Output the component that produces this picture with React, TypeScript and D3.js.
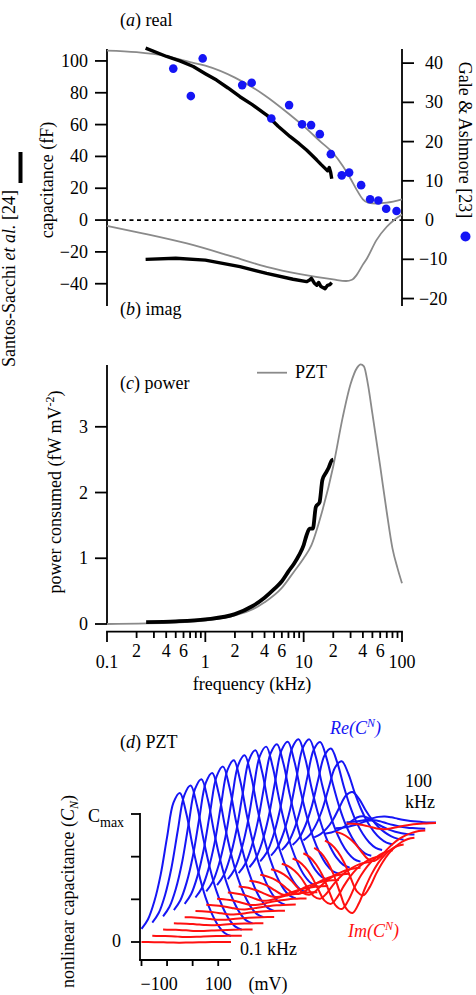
import React from 'react';
import * as d3 from 'd3';

const FONT = '"Liberation Serif", "Times New Roman", serif';

// ---- panels (a)/(b): PZT model (grey), Santos-Sacchi (black), Gale & Ashmore (dots)
const pztReFreq = [0.1, 0.2, 0.4, 0.7, 1, 2, 4, 7, 10, 15, 20, 25, 30, 35, 40, 45, 55, 70, 100];
const pztRe = [106.5, 105.5, 103, 99.3, 97, 89.5, 78.5, 67, 59, 49, 42, 34, 26, 18.5, 13, 11, 10.4, 10.9, 13];
const pztImFreq = [0.1, 0.23, 0.65, 1.9, 4.2, 9.2, 20, 27, 31, 34.5, 40, 44, 55, 70, 85, 100];
const pztIm = [-3.6, -8.3, -14.7, -23, -29.4, -34, -37.3, -38.3, -37.5, -34.6, -28, -24.1, -12.6, -4.2, 0.5, 3.5];

const ssReFreq = [0.247, 0.404, 0.55, 0.754, 1.0, 1.3, 1.7, 2.25, 3.0, 4.21, 5.5, 7.3, 9, 10.7, 12, 13.6, 15, 16.5, 17.5, 18.2, 18.8, 19.3];
const ssRe = [108, 102.8, 100, 96.5, 92, 88, 83, 77.5, 72.5, 66, 59, 52.4, 48, 44, 41, 37.7, 35, 32.5, 31, 33, 30, 26];
const ssImFreq = [0.247, 0.5, 1.0, 2.25, 4.2, 7.8, 10.7, 11.5, 12, 12.8, 13.6, 14.2, 15, 16.5, 17.5, 18.5, 19.3];
const ssIm = [-24.7, -24, -25.2, -29.3, -33.5, -37.2, -38.7, -37.7, -36.6, -39.5, -41, -39.2, -41.8, -43.2, -41, -40.5, -39.3];

const gaFreq = [0.472, 0.712, 0.94, 2.37, 2.96, 4.69, 7.11, 9.63, 11.9, 14.6, 18.9, 24.4, 29.0, 38.4, 47.4, 57.5, 69, 88];
const gaVal = [38.6, 31.6, 41.2, 34.4, 35.0, 25.9, 29.3, 24.4, 24.2, 21.9, 16.8, 11.4, 12.1, 8.9, 5.3, 5.0, 2.9, 2.3];

const leftTicksA = [-40, -20, 0, 20, 40, 60, 80, 100];
const rightTicksA = [-20, -10, 0, 10, 20, 30, 40];

// ---- panel (c): power
const pztPowFreq = [0.1, 0.5, 1, 2, 3, 4, 6, 8, 10, 12, 15, 20, 25, 30, 35, 38, 41, 45, 50, 60, 70, 80, 90, 100];
const pztPow = [0, 0.02, 0.05, 0.13, 0.22, 0.33, 0.55, 0.8, 1.0, 1.2, 1.65, 2.4, 3.15, 3.65, 3.9, 3.95, 3.92, 3.65, 3.2, 2.4, 1.7, 1.15, 0.85, 0.62];
const ssPowFreq = [0.25, 0.5, 1, 2, 3, 4, 5, 6, 7, 8, 9, 10, 10.7, 11.5, 12.4, 13.3, 14.5, 15.5, 17, 18, 19.3, 20];
const ssPow = [0.03, 0.04, 0.07, 0.15, 0.27, 0.4, 0.53, 0.65, 0.8, 0.92, 1.05, 1.2, 1.35, 1.45, 1.45, 1.78, 1.85, 2.19, 2.31, 2.38, 2.49, 2.5];
const powTicks = [0, 1, 2, 3];
const freqMajor = [0.1, 1, 10, 100];
const freqMinorLabels = [2, 4, 6];

// ---- panel (d): PZT nonlinear capacitance waterfall
const dFreqs = [0.1, 0.14, 0.21, 0.3, 0.43, 0.62, 0.89, 1.3, 1.8, 2.6, 3.8, 5.5, 7.8, 11, 16, 23, 34, 48, 70, 100];
const bellV = [-200, -175, -150, -125, -100, -75, -50, -25, 0, 25, 50, 75, 100, 125, 150];
const bellShape = [0.087, 0.15, 0.27, 0.45, 0.7, 0.93, 0.995, 0.86, 0.64, 0.45, 0.3, 0.19, 0.11, 0.06, 0.04];
const reAmp = [1.17, 1.18, 1.18, 1.18, 1.18, 1.18, 1.17, 1.16, 1.14, 1.11, 1.08, 1.05, 1.0, 0.93, 0.83, 0.68, 0.39, 0.15, 0.07, 0.05];
const imAmp = [0.005, 0.01, 0.012, 0.016, 0.023, 0.03, 0.04, 0.055, 0.07, 0.09, 0.125, 0.165, 0.22, 0.3, 0.39, 0.48, 0.56, 0.47, 0.25, 0.05];
const STEP_V = 42.2; // mV shift per frequency
const STEP_C = 0.049; // Cmax shift per frequency
const dVTicks = [-200, -100, 0, 100];
const dCTicks = [0, 1 / 3, 2 / 3, 1];

type P = [number, number];
const zip = (a: number[], b: number[]): P[] => a.map((v, i) => [v, b[i]]);

const App = () => {
  const fx = d3.scaleLog().domain([0.1, 100]).range([107, 402]);
  const yA = d3.scaleLinear().domain([-54, 107.5]).range([306, 49]);
  const yAR = d3.scaleLinear().domain([-21.9, 43.6]).range([306, 49]);
  const yC = d3.scaleLinear().domain([0, 3.94]).range([624, 365]);
  const vD = d3.scaleLinear().domain([-200, 150]).range([141.5, 231]);
  const cD = d3.scaleLinear().domain([0, 1]).range([942, 814]);

  const lineA = d3.line<P>().x(d => fx(d[0])).y(d => yA(d[1])).curve(d3.curveMonotoneX);
  const lineAj = d3.line<P>().x(d => fx(d[0])).y(d => yA(d[1]));
  const lineC = d3.line<P>().x(d => fx(d[0])).y(d => yC(d[1])).curve(d3.curveMonotoneX);
  const lineD = d3.line<P>().x(d => vD(d[0])).y(d => cD(d[1])).curve(d3.curveCatmullRom);

  const freqTicks = fx.ticks();
  const isMajor = (f: number) => freqMajor.some(m => Math.abs(f / m - 1) < 1e-6);
  const mantissa = (f: number) => Math.round(f / Math.pow(10, Math.floor(Math.log10(f) + 1e-9)));

  const blue = '#1515f5';
  const red = '#ff1010';
  const grey = '#8a8a8a';

  return (
    <svg width={476} height={995} style={{ position: 'absolute', left: 0, top: 0, background: '#fff' }}
      fontFamily={FONT} fontSize={18}>
      {/* ---------- (a)/(b) ---------- */}
      <text x={120} y={26}>(<tspan fontStyle="italic">a</tspan>) real</text>
      <text x={120} y={315}>(<tspan fontStyle="italic">b</tspan>) imag</text>
      <line x1={107} x2={107} y1={49} y2={306} stroke="#000" strokeWidth={1.8} />
      <line x1={402} x2={402} y1={49} y2={306} stroke="#000" strokeWidth={1.8} />
      {leftTicksA.map(t => (
        <g key={'la' + t}>
          <line x1={95} x2={107} y1={yA(t)} y2={yA(t)} stroke="#000" strokeWidth={1.8} />
          <text x={88} y={yA(t) + 6} textAnchor="end">{t < 0 ? '\u2212' + Math.abs(t) : t}</text>
        </g>
      ))}
      {rightTicksA.map(t => (
        <g key={'ra' + t}>
          <line x1={402} x2={414} y1={yAR(t)} y2={yAR(t)} stroke="#000" strokeWidth={1.8} />
          <text x={t < 0 ? 419 : 425} y={yAR(t) + 6}>{t < 0 ? '\u2212' + Math.abs(t) : t}</text>
        </g>
      ))}
      <line x1={107} x2={402} y1={yA(0)} y2={yA(0)} stroke="#000" strokeWidth={1.8} strokeDasharray="4 3.5" />
      <path d={lineA(zip(pztReFreq, pztRe)) || ''} fill="none" stroke={grey} strokeWidth={1.8} />
      <path d={lineA(zip(pztImFreq, pztIm)) || ''} fill="none" stroke={grey} strokeWidth={1.8} />
      <path d={lineAj(zip(ssReFreq, ssRe)) || ''} fill="none" stroke="#000" strokeWidth={3.4} strokeLinejoin="round" />
      <path d={lineAj(zip(ssImFreq, ssIm)) || ''} fill="none" stroke="#000" strokeWidth={3.4} strokeLinejoin="round" />
      {gaFreq.map((f, i) => (
        <circle key={'ga' + i} cx={fx(f)} cy={yAR(gaVal[i])} r={4.3} fill={blue} />
      ))}
      <text transform="translate(53,180) rotate(-90)" textAnchor="middle">capacitance (fF)</text>
      <text transform="translate(15,190) rotate(-90)" textAnchor="end">
        Santos-Sacchi <tspan fontStyle="italic">et al.</tspan> [24]
      </text>
      <line x1={20.5} x2={20.5} y1={152} y2={183} stroke="#000" strokeWidth={4} />
      <text transform="translate(459,140) rotate(90)" textAnchor="middle">Gale &amp; Ashmore [23]</text>
      <circle cx={465.5} cy={236.5} r={5} fill={blue} />

      {/* ---------- (c) ---------- */}
      <text x={120} y={389}>(<tspan fontStyle="italic">c</tspan>) power</text>
      <line x1={257} x2={287} y1={372.7} y2={372.7} stroke={grey} strokeWidth={1.8} />
      <text x={295} y={377.5}>PZT</text>
      <line x1={107} x2={107} y1={365} y2={624} stroke="#000" strokeWidth={1.8} />
      {powTicks.map(t => (
        <g key={'pc' + t}>
          <line x1={95} x2={107} y1={yC(t)} y2={yC(t)} stroke="#000" strokeWidth={1.8} />
          <text x={88} y={yC(t) + 6} textAnchor="end">{t}</text>
        </g>
      ))}
      <line x1={106.1} x2={402.9} y1={631.7} y2={631.7} stroke="#000" strokeWidth={1.8} />
      {freqTicks.map(f => {
        const major = isMajor(f);
        const m = mantissa(f);
        return (
          <g key={'fx' + f}>
            <line x1={fx(f)} x2={fx(f)} y1={631.7} y2={major ? 642 : 638} stroke="#000" strokeWidth={1.8} />
            {major && <text x={fx(f)} y={668} textAnchor="middle">{f}</text>}
            {!major && freqMinorLabels.includes(m) && <text x={fx(f)} y={657} textAnchor="middle">{m}</text>}
          </g>
        );
      })}
      <text x={252} y={690} textAnchor="middle">frequency (kHz)</text>
      <path d={lineC(zip(pztPowFreq, pztPow)) || ''} fill="none" stroke={grey} strokeWidth={1.8} />
      <path d={lineC(zip(ssPowFreq, ssPow)) || ''} fill="none" stroke="#000" strokeWidth={3.8} strokeLinejoin="round" />
      <text transform="translate(61,492) rotate(-90)" textAnchor="middle">
        power consumed (fW mV<tspan dy={-7} fontSize={12}>-2</tspan><tspan dy={7}>)</tspan>
      </text>

      {/* ---------- (d) ---------- */}
      <text x={120} y={748}>(<tspan fontStyle="italic">d</tspan>) PZT</text>
      <line x1={140} x2={140} y1={813} y2={960} stroke="#000" strokeWidth={1.8} />
      <line x1={139.1} x2={231} y1={960} y2={960} stroke="#000" strokeWidth={1.8} />
      {dCTicks.map((t, i) => (
        <line key={'dc' + i} x1={131} x2={140} y1={cD(t)} y2={cD(t)} stroke="#000" strokeWidth={1.8} />
      ))}
      {dVTicks.map(t => (
        <line key={'dv' + t} x1={vD(t)} x2={vD(t)} y1={960} y2={966} stroke="#000" strokeWidth={1.8} />
      ))}
      <text x={vD(-100) - 8} y={990} textAnchor="middle">{'\u2212100'}</text>
      <text x={vD(100)} y={990} textAnchor="middle">100</text>
      <text x={268} y={990} textAnchor="middle">(mV)</text>
      <text x={121} y={947} textAnchor="end">0</text>
      <text x={88} y={822}>C<tspan dy={5} fontSize={14}>max</tspan></text>
      <text transform="translate(74,795) rotate(-90)" textAnchor="end">
        nonlinear capacitance (<tspan fontStyle="italic">C</tspan><tspan dy={4} fontSize={12} fontStyle="italic">N</tspan><tspan dy={-4}>)</tspan>
      </text>
      {reAmp.map((a, k) => (
        <path key={'re' + k}
          d={lineD(bellV.map((v, i) => [v + k * STEP_V, k * STEP_C + a * bellShape[i]] as P)) || ''}
          fill="none" stroke={blue} strokeWidth={2} />
      ))}
      {imAmp.map((a, k) => (
        <path key={'im' + k}
          d={lineD(bellV.map((v, i) => [v + k * STEP_V, k * STEP_C - a * bellShape[i]] as P)) || ''}
          fill="none" stroke={red} strokeWidth={2} />
      ))}
      <text x={330} y={734} fill={blue} fontStyle="italic">Re(C<tspan dy={-7} fontSize={12}>N</tspan><tspan dy={7}>)</tspan></text>
      <text x={348} y={937} fill={red} fontStyle="italic">Im(C<tspan dy={-7} fontSize={12}>N</tspan><tspan dy={7}>)</tspan></text>
      <text x={405} y={787}>100</text>
      <text x={405} y={808}>kHz</text>
      <text x={240} y={955}>{dFreqs[0]} kHz</text>
    </svg>
  );
};

export default App;
